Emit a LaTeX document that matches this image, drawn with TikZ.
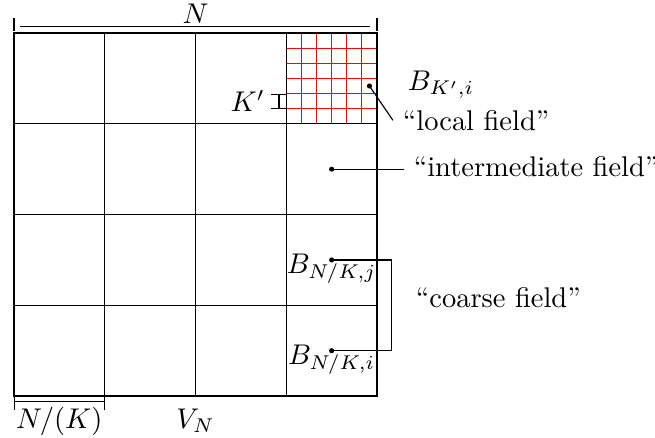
\documentclass[tikz,border=0pt]{standalone}
\usepackage{amsmath,amssymb}
\usepackage{tikz}

\begin{document}
\begin{tikzpicture}[x=1.12cm, y=1.12cm]
\useasboundingbox (-0.154,-0.452) rectangle (7.063,4.364);
%----------------- the box V_N: fine cells, coarse cells, border -----------------
\draw[red] (3,3) grid[step={(0.1666667,0.1666667)}] (4,4);
\draw (0,0) grid[step={(1,1)}] (4,4);
\draw[thick] (0,0) rectangle (4,4);
% centres that the labels point to
\coordinate (loc) at (3.9167,3.4167);
\coordinate (mid) at (3.5,2.5);
\coordinate (cj) at (3.5,1.5);
\coordinate (ci) at (3.5,0.5);
\fill (loc) circle (0.9pt);
\fill (mid) circle (0.9pt);
\fill (cj) circle (0.9pt);
\fill (ci) circle (0.9pt);
%----------------- side lengths -----------------
\draw (0,4.025) -- (0,4.162);
\draw (4,4.025) -- (4,4.162);
\draw (0.066,4.069) -- (3.923,4.069);
\node[anchor=base] (lenN) at (2,4.11) {$N$};
\draw[|-|] (0,-0.063) -- (1,-0.063);
\node[anchor=base] (lenK) at (0.5,-0.356) {$N/(K)$};
\node[anchor=base] (VN) at (2,-0.356) {$V_N$};
\draw[|-|] (2.92,3.1667) -- (2.92,3.3333);
\node[left] (lenKp) at (2.875,3.25) {$K'$};
%----------------- local field -----------------
\node[anchor=west] (Bloc) at (4.23,3.43) {$B_{K',i}$};
\node[anchor=base west] (local) at (4.175,2.93) {``local field''};
\draw (loc) -- (local.west);
%----------------- intermediate field -----------------
\node[anchor=base west] (inter) at (4.295,2.424) {``intermediate field''};
\draw (mid) -- (inter.west |- mid);
%----------------- coarse field -----------------
\node[anchor=base] (Bj) at (3.5,1.355) {$B_{N/K,j}$};
\node[anchor=base] (Bi) at (3.5,0.345) {$B_{N/K,i}$};
\draw (cj) -- ++(0.662,0) |- (ci);
\node[anchor=base west] (coarse) at (4.318,0.977) {``coarse field''};
\end{tikzpicture}
\end{document}
